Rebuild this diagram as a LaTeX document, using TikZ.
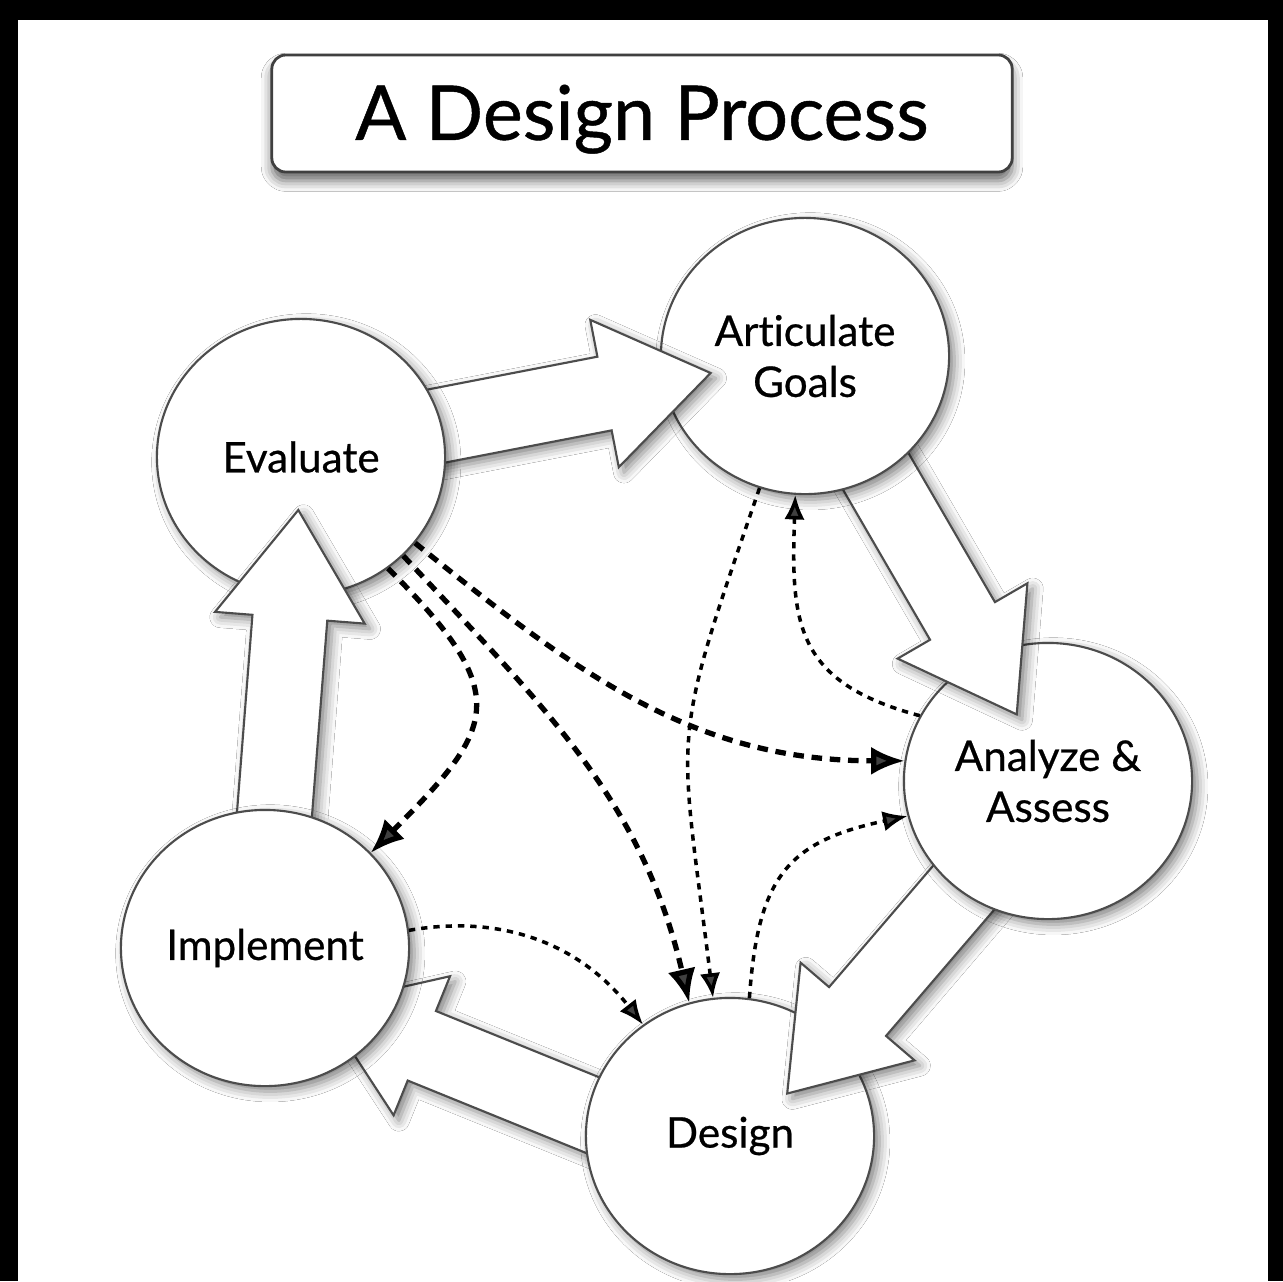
\documentclass[tikz,border=0pt]{standalone}
\usepackage{fontspec}
\setmainfont{Lato}[Ligatures=NoCommon,FakeBold=0.6]
\usetikzlibrary{arrows.meta,calc,shapes.geometric,shadows.blur}
\tikzset{>=latex}
\tikzset{
  stage/.style={ellipse,draw=black!70,line width=0.6pt,fill=white,
    minimum width=2.88cm,minimum height=2.76cm,inner sep=0pt,align=center,
    font=\fontsize{12}{14.5}\selectfont,
    blur shadow={shadow xshift=1.5pt,shadow yshift=-1.5pt,shadow blur radius=3pt,shadow opacity=50}},
  titlebox/.style={draw=black!75,line width=0.8pt,fill=white,rounded corners=4pt,
    minimum width=7.4cm,minimum height=1.17cm,text height=19pt,text depth=4pt,
    font=\fontsize{21.5}{26}\selectfont,
    blur shadow={shadow xshift=0pt,shadow yshift=-2.5pt,shadow blur radius=3pt,shadow opacity=60}},
  bigarrow/.style={draw=black!70,line width=0.6pt,fill=white,
    blur shadow={shadow xshift=1.5pt,shadow yshift=-1.5pt,shadow blur radius=3pt,shadow opacity=50}},
  thickdash/.style={-{Latex[length=9.5pt,width=8pt]},line width=1.5pt,dash pattern=on 3pt off 2.2pt},
  dotdash/.style={-{Latex[length=7pt,width=5.8pt]},line width=1pt,dash pattern=on 1.8pt off 1.7pt}
}
% block arrow: start, tip, name
\newcommand{\blockarrow}[3]{%
  \coordinate (#3h) at ($(#2)!1.08cm!(#1)$);
  \draw[bigarrow] ($(#1)!0.375cm!90:(#2)$) -- ($(#3h)!0.375cm!90:(#2)$)
    -- ($(#3h)!0.75cm!90:(#2)$) -- (#2) -- ($(#3h)!0.75cm!-90:(#2)$)
    -- ($(#3h)!0.375cm!-90:(#2)$) -- ($(#1)!0.375cm!-90:(#2)$) -- cycle;
}

\begin{document}
\begin{tikzpicture}[x=0.01cm,y=-0.01cm]
  % Frame
  \useasboundingbox (0,0) rectangle (1283,1281);
  \fill[black] (0,0) rectangle (1283,1281);
  \fill[white] (18,20) rectangle (1268,1281);

  % Title
  \node[titlebox] (title) at (642,113.5) {A Design Process};

  % Vertices
  \coordinate (di0) at (699.5,1158.5);
  \coordinate (di1) at (321.7,1005.1);
  \coordinate (ad0) at (1052.8,783.8);
  \coordinate (ad1) at (787.2,1093.5);
  \coordinate (ga0) at (812,361.5);
  \coordinate (ga1) at (1016.7,714.4);
  \coordinate (eg0) at (310,450.5);
  \coordinate (eg1) at (710.6,373);
  \coordinate (ie0) at (266.6,914.5);
  \coordinate (ie1) at (298.3,510);

  % Stages and block arrows, back to front
  \blockarrow{di0}{di1}{di}
  \node[stage] (design) at (730,1136) {Design};
  \blockarrow{ad0}{ad1}{ad}
  \node[stage] (analyze) at (1048,781) {Analyze \&\\Assess};
  \blockarrow{ga0}{ga1}{ga}
  \node[stage] (goals) at (805,356) {Articulate\\Goals};
  \blockarrow{eg0}{eg1}{eg}
  \node[stage] (evaluate) at (301,457) {Evaluate};
  \blockarrow{ie0}{ie1}{ie}
  \node[stage] (implement) at (265,948) {Implement};

  % Lines
  \draw[thickdash] (evaluate.-52) to[out=-45,in=45,looseness=1.6] (implement.42);
  \draw[thickdash] (evaluate.-44) to[out=-47,in=103] (design.107);
  \draw[thickdash] (evaluate.-37) to[out=-39,in=180] (analyze.172);

  \draw[dotdash] (goals.-109) to[out=-109,in=97,looseness=1.4] (design.97);
  \draw[dotdash] (analyze.153) to[out=165,in=-92,looseness=1.3] (goals.-94);
  \draw[dotdash] (design.82) to[out=86,in=192,looseness=1.3] (analyze.194);
  \draw[dotdash] (implement.7) to[out=10,in=128] (design.128);
\end{tikzpicture}
\end{document}
